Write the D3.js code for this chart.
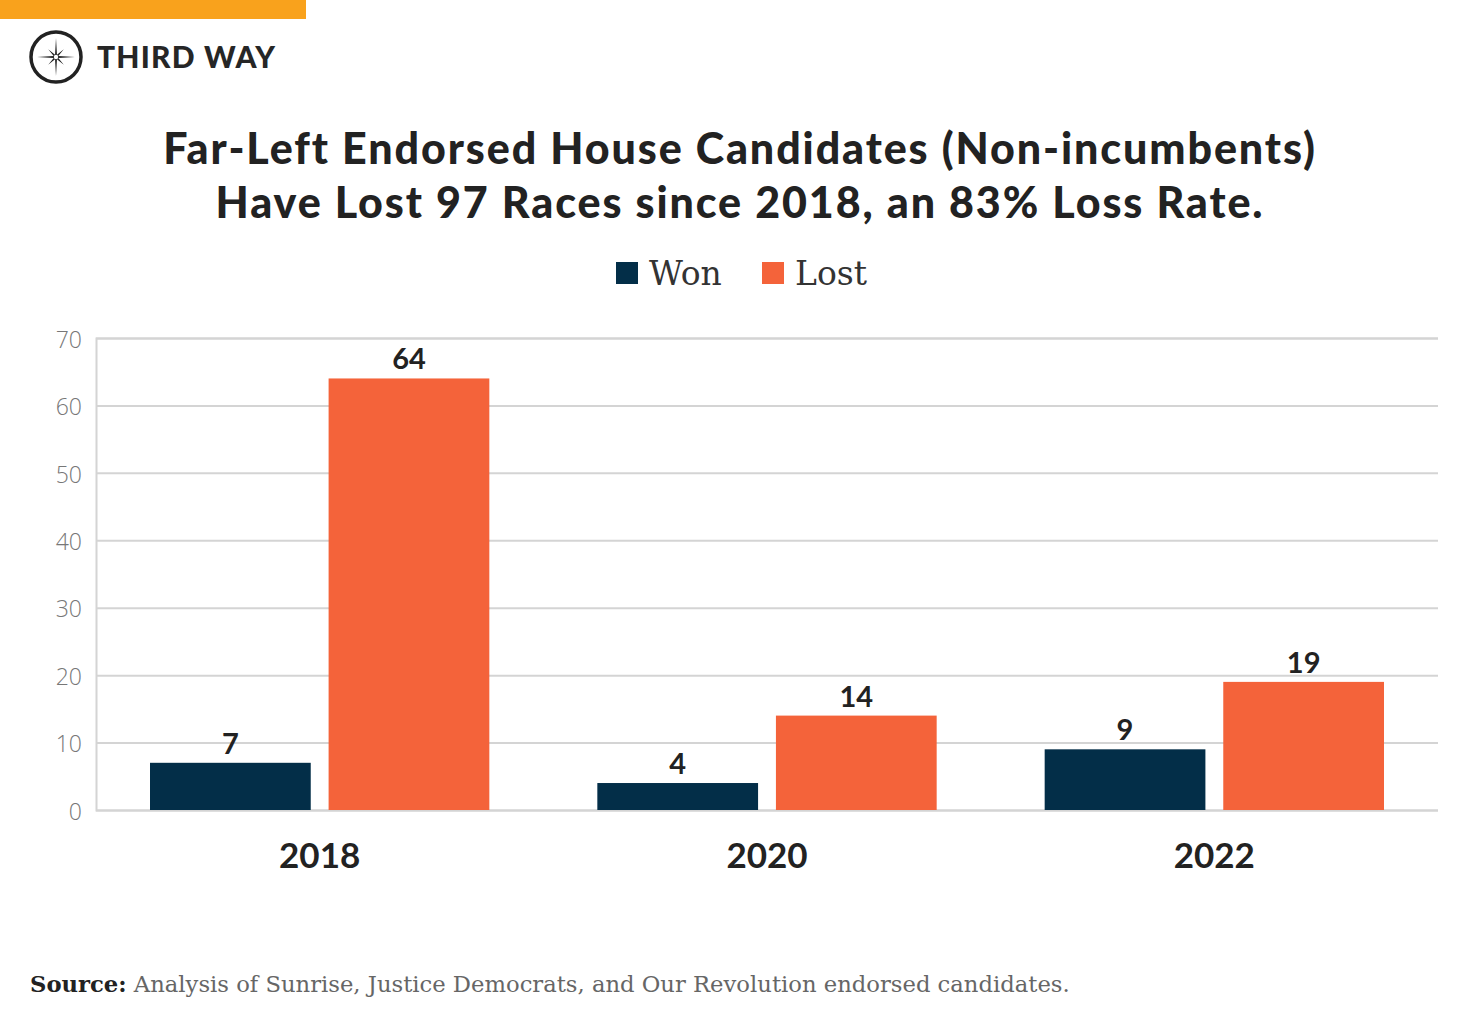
<!DOCTYPE html>
<html lang="en">
<head>
<meta charset="UTF-8">
<title>Far-Left Endorsed House Candidates</title>
<style>
  body { margin: 0; background: #fff; }
  svg { display: block; }
</style>
</head>
<body>
<script src="https://cdn.jsdelivr.net/npm/d3@7"></script>
<script>
// data
const years = ['2018', '2020', '2022'];
const seriesNames = ['Won', 'Lost'];
const won = [7, 4, 9];
const lost = [64, 14, 19];
const yTicks = [0, 10, 20, 30, 40, 50, 60, 70];

const w = 1480, h = 1030;
const colors = { Won: '#032e48', Lost: '#f4633a' };
const sans = 'Lato, "Open Sans", sans-serif';
const serif = '"DejaVu Serif", "Liberation Serif", serif';

const svg = d3.select('body').append('svg')
    .attr('width', w)
    .attr('height', h);

// top orange strip
svg.append('rect').attr('x', 0).attr('y', 0).attr('width', 306).attr('height', 19).attr('fill', '#f9a21c');

// logo
const logo = svg.append('g').attr('transform', 'translate(56,57)');
logo.append('circle').attr('r', 25).attr('fill', 'none').attr('stroke', '#222').attr('stroke-width', 3.5);
const star = d3.lineRadial().angle(d => d[0]).radius(d => d[1]).curve(d3.curveLinearClosed);
const pts = [];
for (let i = 0; i < 16; i++) {
    const a = i * Math.PI / 8;
    const r = i % 4 === 0 ? 19 : (i % 2 === 0 ? 11 : 2.5);
    pts.push([a, r]);
}
logo.append('path').attr('d', star(pts)).attr('fill', '#222');
logo.append('circle').attr('r', 2.2).attr('fill', '#fff');
svg.append('text').attr('x', 97).attr('y', 68)
    .attr('font-family', sans).attr('font-weight', 900).attr('font-size', 30)
    .attr('letter-spacing', 1.2)
    .attr('fill', '#262626').text('THIRD WAY');

// title
const title = svg.append('text').attr('text-anchor', 'middle')
    .attr('font-family', sans).attr('font-weight', 900).attr('font-size', 43)
    .attr('letter-spacing', 1.9).attr('fill', '#222');
title.append('tspan').attr('x', 740).attr('y', 164).text('Far-Left Endorsed House Candidates (Non-incumbents)');
title.append('tspan').attr('x', 740).attr('y', 218).text('Have Lost 97 Races since 2018, an 83% Loss Rate.');

// legend
const legend = svg.append('g');
const legX = { Won: 616, Lost: 762 };
seriesNames.forEach(s => {
    legend.append('rect').attr('x', legX[s]).attr('y', 262).attr('width', 22).attr('height', 22).attr('fill', colors[s]);
    legend.append('text').attr('x', legX[s] + 33).attr('y', 285)
        .attr('font-family', serif).attr('font-size', 33).attr('fill', '#333').text(s);
});

// chart
const margin = { left: 96, right: 1438, top: 338, bottom: 810 };
const x0 = d3.scaleBand().domain(years).range([margin.left, margin.right]).paddingInner(0).paddingOuter(0);
const x1 = d3.scaleBand().domain(seriesNames).range([54, x0.bandwidth() - 54]).paddingInner(0.1);
const y = d3.scaleLinear().domain([0, 70]).range([margin.bottom, margin.top]);

const yAxis = d3.axisLeft(y).tickValues(yTicks).tickSize(-(margin.right - margin.left)).tickPadding(14);
const gy = svg.append('g').attr('transform', `translate(${margin.left},0)`).call(yAxis);
gy.select('.domain').attr('stroke', '#d4d4d4').attr('stroke-width', 2);
gy.selectAll('.tick line').attr('stroke', '#d4d4d4').attr('stroke-width', 2);
gy.selectAll('.tick text').attr('font-family', '"Open Sans", sans-serif').attr('font-weight', 300)
    .attr('font-size', 23).attr('fill', '#777').attr('dy', '0.4em');

const rows = years.map((yr, i) => ({ year: yr, values: [{ key: 'Won', v: won[i] }, { key: 'Lost', v: lost[i] }] }));

const groups = svg.selectAll('.grp').data(rows).enter().append('g')
    .attr('class', 'grp')
    .attr('transform', d => `translate(${x0(d.year)},0)`);

groups.selectAll('rect').data(d => d.values).enter().append('rect')
    .attr('x', d => x1(d.key))
    .attr('y', d => y(d.v))
    .attr('width', x1.bandwidth())
    .attr('height', d => y(0) - y(d.v))
    .attr('fill', d => colors[d.key]);

groups.selectAll('.val').data(d => d.values).enter().append('text')
    .attr('class', 'val')
    .attr('x', d => x1(d.key) + x1.bandwidth() / 2)
    .attr('y', d => y(d.v) - 9)
    .attr('text-anchor', 'middle')
    .attr('font-family', sans).attr('font-weight', 700).attr('font-size', 29).attr('fill', '#222')
    .text(d => d.v);

// x labels
svg.selectAll('.xlab').data(years).enter().append('text')
    .attr('class', 'xlab')
    .attr('x', d => x0(d) + x0.bandwidth() / 2)
    .attr('y', 868)
    .attr('text-anchor', 'middle')
    .attr('font-family', sans).attr('font-weight', 700).attr('font-size', 35).attr('fill', '#222')
    .text(d => d);

// source
const src = svg.append('text').attr('x', 30).attr('y', 992)
    .attr('font-family', serif).attr('font-size', 22.7).attr('fill', '#666');
src.append('tspan').attr('font-weight', 700).attr('fill', '#222').text('Source:');
src.append('tspan').text(' Analysis of Sunrise, Justice Democrats, and Our Revolution endorsed candidates.');
</script>
</body>
</html>
